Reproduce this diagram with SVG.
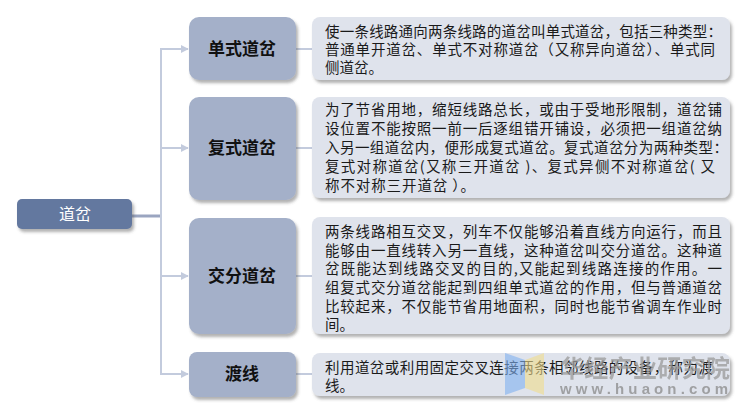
<svg xmlns="http://www.w3.org/2000/svg" width="750" height="417" viewBox="0 0 750 417">
<defs>
<filter id="sh" x="-10%" y="-10%" width="125%" height="130%">
<feDropShadow dx="2" dy="3" stdDeviation="1.5" flood-color="#555" flood-opacity="0.45"/>
</filter>
<marker id="arr" viewBox="0 0 10 10" refX="9" refY="5" markerWidth="8" markerHeight="8" markerUnits="userSpaceOnUse" orient="auto">
<path d="M0,0 L10,5 L0,10 z" fill="#c3cbdd"/>
</marker>
<style>
.child{fill:#a4b0c9;filter:url(#sh)}
.box{fill:#dfe3ec;filter:url(#sh)}
.ct{font-family:"Noto Sans CJK SC","Liberation Serif",serif;font-size:17px;font-weight:bold;fill:#111;text-anchor:middle}
.bt{font-family:"Noto Sans CJK SC","Liberation Sans",sans-serif;font-size:14.5px;fill:#1a1a1a}
.ln{stroke:#c3cbdd;stroke-width:2;fill:none}
</style>
</defs>
<rect width="750" height="417" fill="#ffffff"/>
<g id="connectors">
<line x1="132" y1="216" x2="161" y2="216" stroke="#9aa5c0" stroke-width="3"/>
<line class="ln" x1="161" y1="48" x2="161" y2="375"/>
<line class="ln" x1="160" y1="49" x2="188" y2="49" marker-end="url(#arr)"/>
<line class="ln" x1="160" y1="148" x2="188" y2="148" marker-end="url(#arr)"/>
<line class="ln" x1="160" y1="276" x2="188" y2="276" marker-end="url(#arr)"/>
<line class="ln" x1="160" y1="374" x2="188" y2="374" marker-end="url(#arr)"/>
<line class="ln" x1="296" y1="49" x2="312" y2="49"/>
<line class="ln" x1="296" y1="148" x2="312" y2="148"/>
<line class="ln" x1="296" y1="276" x2="312" y2="276"/>
<line class="ln" x1="296" y1="374" x2="312" y2="374"/>
</g>
<g id="root">
<rect x="17" y="199" width="115" height="30" rx="5" fill="#64789f" filter="url(#sh)"/>
<text x="75" y="220" font-family="Noto Sans CJK SC, Liberation Serif, serif" font-size="16" fill="#ffffff" text-anchor="middle">道岔</text>
</g>
<g id="n1">
<rect class="child" x="189" y="17" width="107" height="63" rx="10"/>
<text class="ct" x="242" y="55">单式道岔</text>
</g>
<g id="n2">
<rect class="child" x="189" y="97" width="107" height="103" rx="10"/>
<text class="ct" x="242" y="154">复式道岔</text>
</g>
<g id="n3">
<rect class="child" x="189" y="218" width="107" height="116" rx="10"/>
<text class="ct" x="242" y="282">交分道岔</text>
</g>
<g id="n4">
<rect class="child" x="189" y="352" width="107" height="45" rx="8"/>
<text class="ct" x="242" y="380">渡线</text>
</g>
<g id="d1">
<rect class="box" x="312" y="17" width="418" height="63" rx="8"/>
<text class="bt" x="325" y="37" textLength="397" lengthAdjust="spacing">使一条线路通向两条线路的道岔叫单式道岔，包括三种类型：</text>
<text class="bt" x="325" y="55" textLength="390" lengthAdjust="spacing">普通单开道岔、单式不对称道岔（又称异向道岔）、单式同</text>
<text class="bt" x="325" y="73">侧道岔。</text>
</g>
<g id="d2">
<rect class="box" x="312" y="97" width="418" height="101" rx="8"/>
<text class="bt" x="325" y="115" textLength="397" lengthAdjust="spacing">为了节省用地，缩短线路总长，或由于受地形限制，道岔铺</text>
<text class="bt" x="325" y="134" textLength="397" lengthAdjust="spacing">设位置不能按照一前一后逐组错开铺设，必须把一组道岔纳</text>
<text class="bt" x="325" y="153" textLength="403" lengthAdjust="spacing">入另一组道岔内，便形成复式道岔。复式道岔分为两种类型：</text>
<text class="bt" x="325" y="172" textLength="390" lengthAdjust="spacing">复式对称道岔(又称三开道岔 )、复式异侧不对称道岔( 又</text>
<text class="bt" x="325" y="191" textLength="150" lengthAdjust="spacing">称不对称三开道岔 ）。</text>
</g>
<g id="d3">
<rect class="box" x="312" y="217" width="418" height="117" rx="8"/>
<text class="bt" x="325" y="237" textLength="397" lengthAdjust="spacing">两条线路相互交叉，列车不仅能够沿着直线方向运行，而且</text>
<text class="bt" x="325" y="256" textLength="397" lengthAdjust="spacing">能够由一直线转入另一直线，这种道岔叫交分道岔。这种道</text>
<text class="bt" x="325" y="274" textLength="397" lengthAdjust="spacing">岔既能达到线路交叉的目的,又能起到线路连接的作用。一</text>
<text class="bt" x="325" y="293" textLength="397" lengthAdjust="spacing">组复式交分道岔能起到四组单式道岔的作用，但与普通道岔</text>
<text class="bt" x="325" y="312" textLength="397" lengthAdjust="spacing">比较起来，不仅能节省用地面积，同时也能节省调车作业时</text>
<text class="bt" x="325" y="330">间。</text>
</g>
<g id="d4">
<rect class="box" x="312" y="353" width="418" height="43" rx="8"/>
<text class="bt" x="325" y="373" textLength="388" lengthAdjust="spacing">利用道岔或利用固定交叉连接两条相邻线路的设备，称为渡</text>
<text class="bt" x="325" y="391">线。</text>
</g>
<g id="watermark" opacity="0.75">
<polygon points="505,353 525,360 525,388 505,395" fill="#7fb0f0" opacity="0.8"/>
<polygon points="525,360 544,353 544,395 525,388" fill="#f0dc8c" opacity="0.8"/>
<text x="560" y="377" font-family="Noto Sans CJK SC, sans-serif" font-size="24" font-weight="bold" fill="#9a9a9a" textLength="170" lengthAdjust="spacing">华经产业研究院</text>
<text x="560" y="394" font-family="Liberation Sans, sans-serif" font-size="15" font-weight="bold" fill="#8a8a8a" textLength="168" lengthAdjust="spacing">www.huaon.com</text>
</g>
</svg>
